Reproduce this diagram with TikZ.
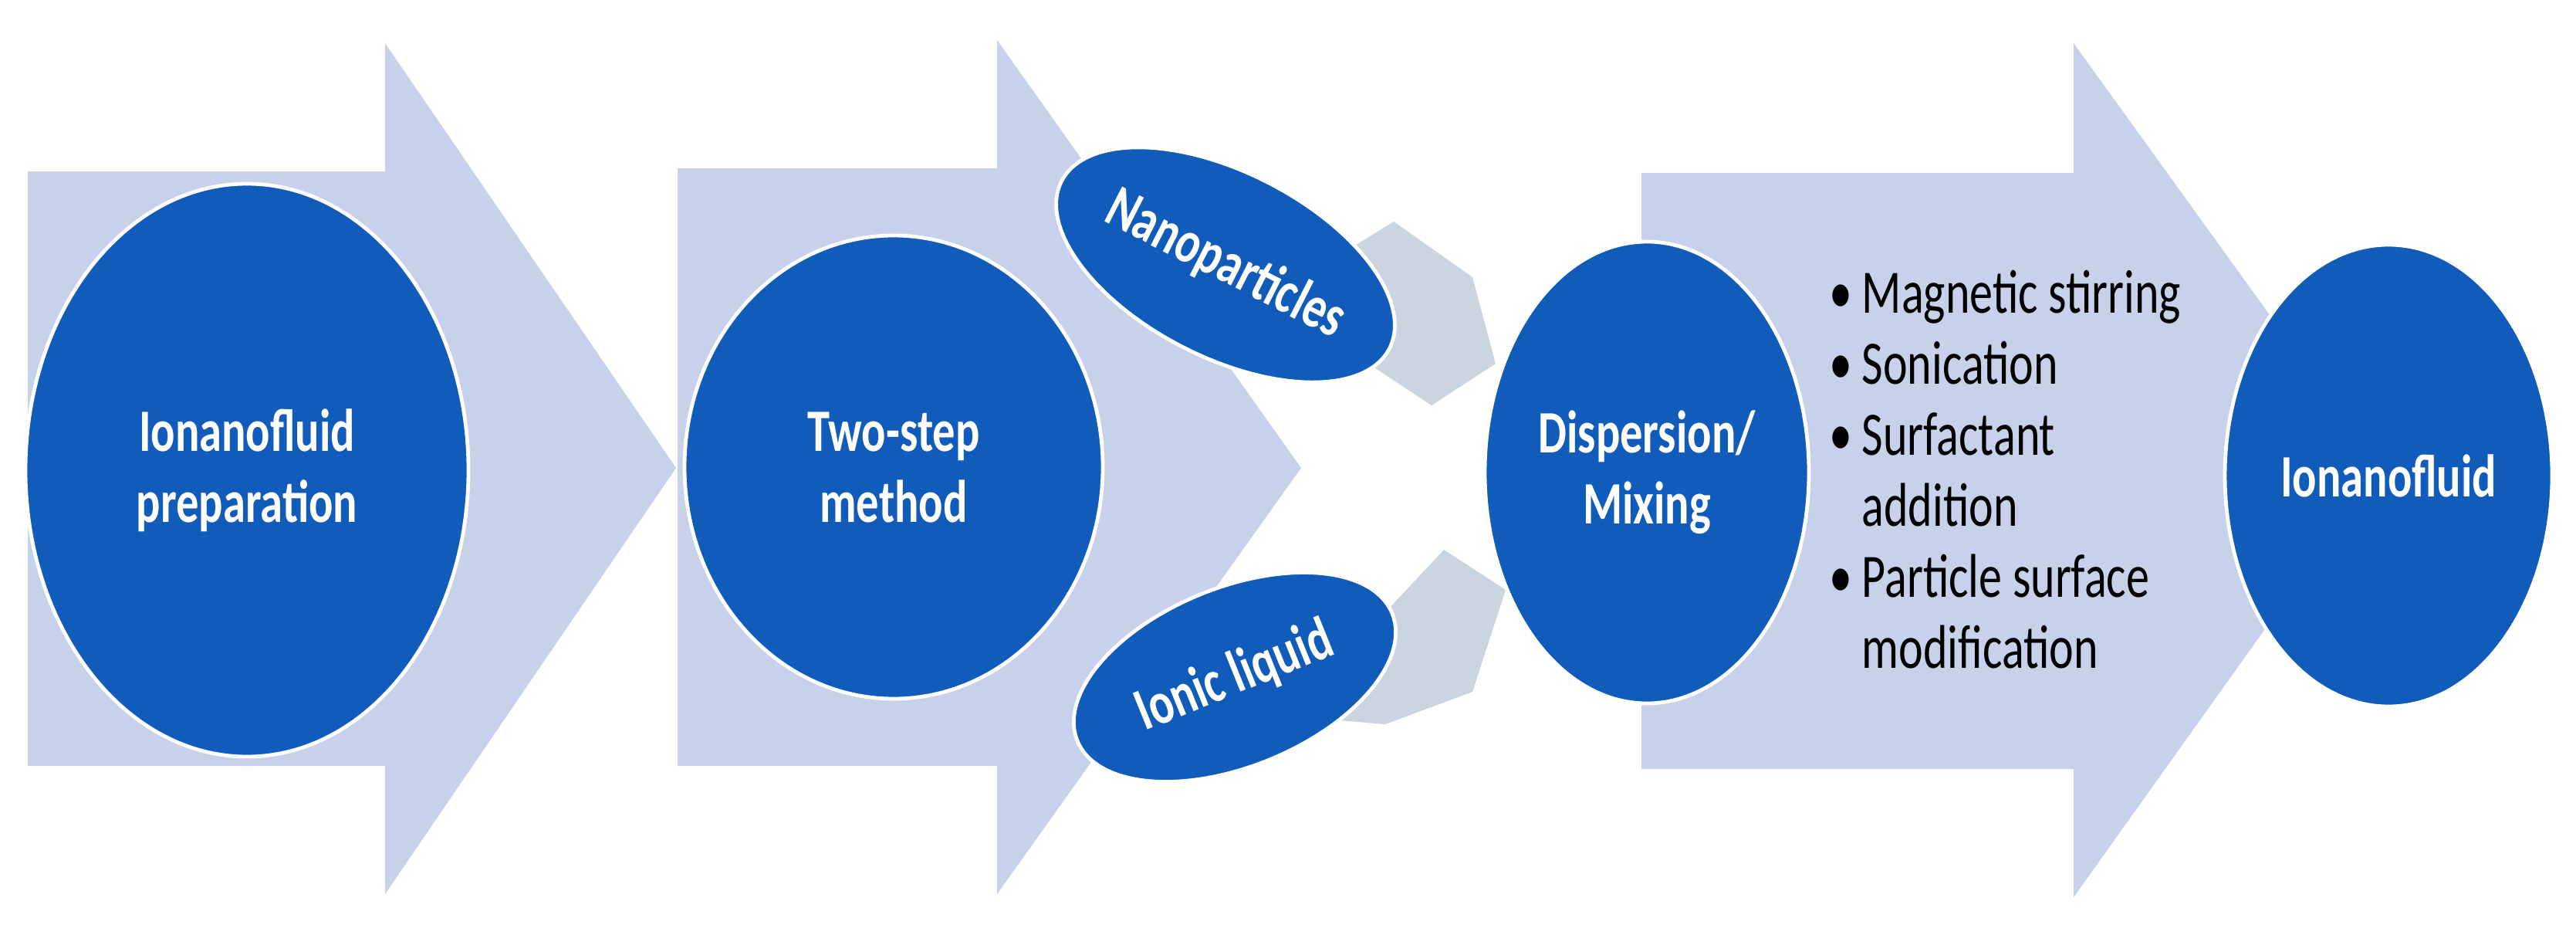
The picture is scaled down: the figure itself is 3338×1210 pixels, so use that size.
\documentclass[tikz,border=0pt]{standalone}
\usepackage{fontspec}
\setmainfont{Carlito}[FakeStretch=0.75]
\usetikzlibrary{shapes.geometric}
\definecolor{dblue}{HTML}{115BBB}
\definecolor{lblue}{HTML}{C8D1EA}
\definecolor{lgray}{HTML}{CAD5E0}
\begin{document}
\begin{tikzpicture}[x=0.25pt,y=-0.25pt,
  blob/.style={ellipse,fill=dblue,draw=white,line width=1.2pt,inner sep=0pt,text=white,font=\bfseries\fontsize{19.5}{23}\selectfont,align=center},
  big/.style={fill=lblue},
  small/.style={fill=lgray}]
\useasboundingbox (0,0) rectangle (3338,1210);
\fill[white] (0,0) rectangle (3338,1210);
% big block arrows
\fill[big] (36,222) -- (499,222) -- (499,56) -- (876,606) -- (499,1158) -- (499,992) -- (36,992) -- cycle;
\fill[big] (878,218) -- (1292,218) -- (1292,52) -- (1686,606) -- (1292,1158) -- (1292,992) -- (878,992) -- cycle;
\fill[big] (2127,224) -- (2687,224) -- (2687,56) -- (3084,606) -- (2687,1162) -- (2687,996) -- (2127,996) -- cycle;
% small gray arrows
\fill[small] (1720,340) -- (1806,287) -- (1908,359) -- (1938,471) -- (1855,525) -- (1749,455) -- (1650,420) -- cycle;
\fill[small] (1770,820) -- (1871,712) -- (1951,764) -- (1908,896) -- (1795,938) -- (1700,930) -- cycle;
% nodes
\node[blob,minimum width=116pt,minimum height=60pt,rotate=-27] (nano) at (1588,343) {Nanoparticles};
\node[blob,minimum width=110pt,minimum height=58pt,rotate=22] (ionic) at (1600,877) {Ionic liquid};
\node[blob,minimum width=143.5pt,minimum height=185.5pt] (prep) at (320,609) {Ionanofluid\\preparation};
\node[blob,minimum width=135.5pt,minimum height=150pt] (two) at (1158,605) {Two-step\\method};
\node[blob,minimum width=105pt,minimum height=149.5pt] (disp) at (2134,612) {Dispersion/\\Mixing};
\node[blob,minimum width=106pt,minimum height=149.5pt] (fluid) at (3095,616) {Ionanofluid};
% bullets
\node[anchor=north west,inner sep=0pt,font=\fontsize{20}{23}\selectfont] (list) at (2370,340) {%
\begin{tabular}{@{}l@{\hspace{3pt}}l@{}}
\textbullet & Magnetic stirring\\
\textbullet & Sonication\\
\textbullet & Surfactant\\
 & addition\\
\textbullet & Particle surface\\
 & modification
\end{tabular}};
\end{tikzpicture}
\end{document}
